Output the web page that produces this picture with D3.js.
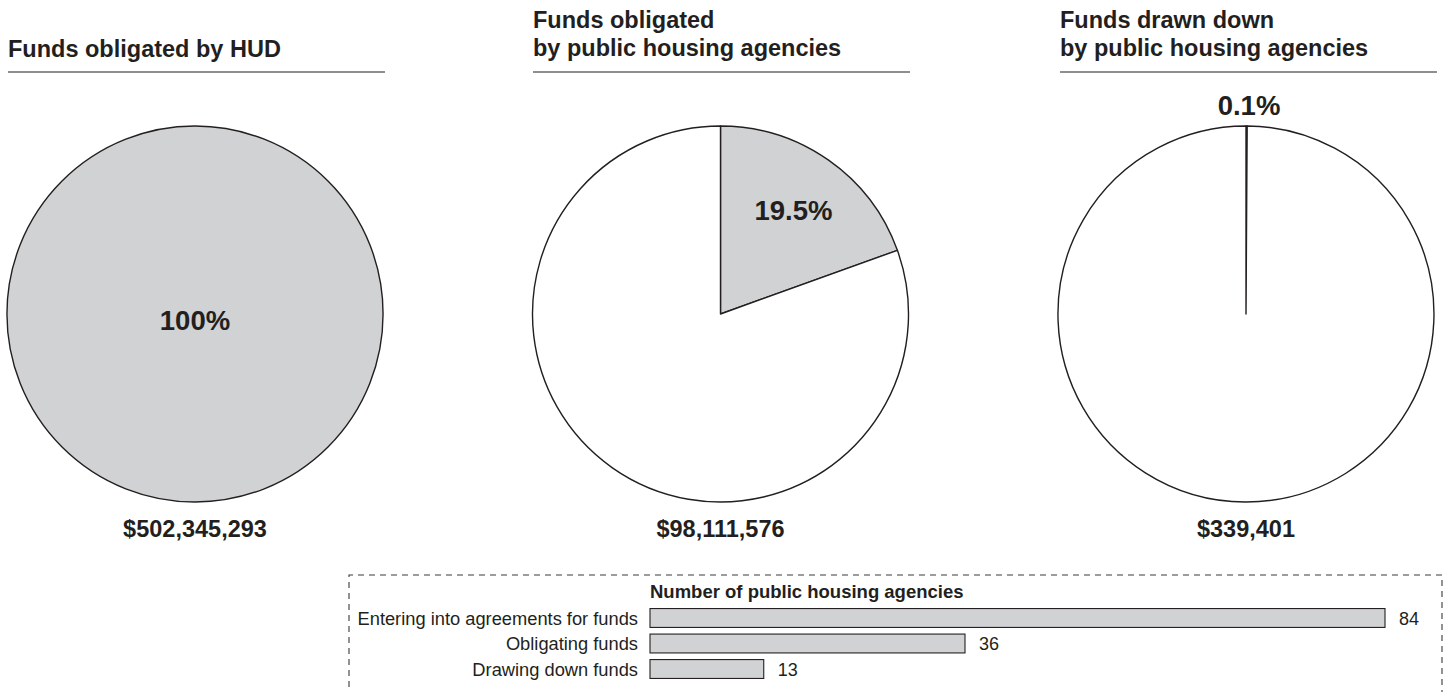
<!DOCTYPE html>
<html>
<head>
<meta charset="utf-8">
<script src="https://cdn.jsdelivr.net/npm/d3@7"></script>
<style>
  html, body { margin: 0; padding: 0; background: #fff; }
  svg { display: block; font-family: "Liberation Sans", Arial, Helvetica, sans-serif; }
</style>
</head>
<body>
<svg id="chart" width="1446" height="692"></svg>
<script>
// Pie panels: titles, share of HUD funds (percent) and dollar amounts
const pieTitles = [
  ["Funds obligated by HUD"],
  ["Funds obligated", "by public housing agencies"],
  ["Funds drawn down", "by public housing agencies"]
];
const pieShares = [100, 19.5, 0.1];
const pieShareLabels = ["100%", "19.5%", "0.1%"];
const pieAmounts = ["$502,345,293", "$98,111,576", "$339,401"];

// Bar panel: number of public housing agencies at each stage
const barTitle = "Number of public housing agencies";
const barCategories = ["Entering into agreements for funds", "Obligating funds", "Drawing down funds"];
const barValues = [84, 36, 13];

const ink = "#231f20";
const grey = "#d1d2d4";
const svg = d3.select("#chart");

// ---- pies ----
const radius = 188;
const pieX = d3.scalePoint().domain(d3.range(3)).range([195, 1246]);
const pieY = 314;
const pie = d3.pie().sort(null).value(d => d.v);
const arc = d3.arc().innerRadius(0).outerRadius(radius);
const labelArc = d3.arc().innerRadius(0).outerRadius(radius * 1.35);

const titleX = [8, 533, 1060];
const titleRight = [385, 910, 1437];

pieShares.forEach((share, i) => {
  const g = svg.append("g");

  // title block with rule beneath
  const lines = pieTitles[i];
  const t = g.append("text")
    .attr("x", titleX[i])
    .attr("font-size", 23.5)
    .attr("font-weight", "bold")
    .attr("fill", ink);
  lines.forEach((ln, k) => {
    t.append("tspan")
      .attr("x", titleX[i])
      .attr("y", lines.length === 1 ? 57 : 28 + k * 28)
      .text(ln);
  });
  g.append("line")
    .attr("x1", titleX[i]).attr("x2", titleRight[i])
    .attr("y1", 72).attr("y2", 72)
    .attr("stroke", ink).attr("stroke-width", 1.2);

  // pie
  const slices = pie([{ k: "share", v: share }, { k: "rest", v: 100 - share }])
    .filter(d => d.endAngle - d.startAngle > 0);
  const pg = g.append("g").attr("transform", `translate(${pieX(i)},${pieY})`);
  pg.selectAll("path")
    .data(slices)
    .join("path")
    .attr("d", arc)
    .attr("fill", d => d.data.k === "share" ? grey : "#fff")
    .attr("stroke", ink)
    .attr("stroke-width", 1.4)
    .attr("stroke-linejoin", "round");

  // percentage label
  const lbl = pg.append("text")
    .attr("font-size", 27.5)
    .attr("font-weight", "bold")
    .attr("fill", ink)
    .attr("text-anchor", "middle")
    .text(pieShareLabels[i]);
  if (share >= 99.9) {
    lbl.attr("x", 0).attr("y", 16);
  } else if (share >= 5) {
    const c = labelArc.centroid(slices[0]);
    lbl.attr("x", c[0]).attr("y", c[1] + 10);
  } else {
    lbl.attr("x", 3).attr("y", -radius - 11);
  }

  // amount
  g.append("text")
    .attr("x", pieX(i))
    .attr("y", 537)
    .attr("text-anchor", "middle")
    .attr("font-size", 23.5)
    .attr("font-weight", "bold")
    .attr("fill", ink)
    .text(pieAmounts[i]);
});

// ---- bar panel ----
const box = { left: 349, top: 575, right: 1442, bottom: 720 };
svg.append("path")
  .attr("d", `M${box.left},${box.bottom}V${box.top}H${box.right}V${box.bottom}`)
  .attr("fill", "none")
  .attr("stroke", "#3a3a3a")
  .attr("stroke-width", 1.1)
  .attr("stroke-dasharray", "6,5");

const x = d3.scaleLinear().domain([0, d3.max(barValues)]).range([650, 1385]);
const y = d3.scaleBand().domain(barCategories).range([606, 681]).paddingInner(0.26).paddingOuter(0.1);

svg.append("text")
  .attr("x", x(0))
  .attr("y", 598)
  .attr("font-size", 18.5)
  .attr("font-weight", "bold")
  .attr("fill", ink)
  .text(barTitle);

const bars = svg.append("g");
bars.selectAll("rect")
  .data(barValues)
  .join("rect")
  .attr("x", x(0))
  .attr("y", (d, i) => y(barCategories[i]))
  .attr("width", d => x(d) - x(0))
  .attr("height", y.bandwidth())
  .attr("fill", grey)
  .attr("stroke", ink)
  .attr("stroke-width", 1.1);

bars.selectAll("text.cat")
  .data(barCategories)
  .join("text")
  .attr("class", "cat")
  .attr("x", x(0) - 12)
  .attr("y", d => y(d) + y.bandwidth() / 2)
  .attr("dy", "0.36em")
  .attr("text-anchor", "end")
  .attr("font-size", 18.3)
  .attr("fill", ink)
  .text(d => d);

bars.selectAll("text.val")
  .data(barValues)
  .join("text")
  .attr("class", "val")
  .attr("x", d => x(d) + 14)
  .attr("y", (d, i) => y(barCategories[i]) + y.bandwidth() / 2)
  .attr("dy", "0.38em")
  .attr("font-size", 18)
  .attr("fill", ink)
  .text(d => d);
</script>
</body>
</html>
